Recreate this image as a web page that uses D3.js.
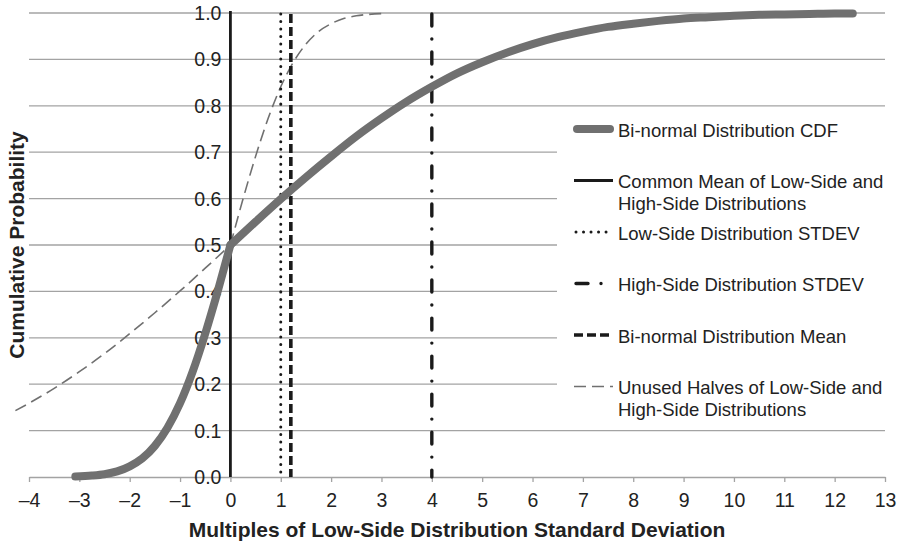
<!DOCTYPE html>
<html>
<head>
<meta charset="utf-8">
<script src="https://cdn.jsdelivr.net/npm/d3@7"></script>
<style>
  body { margin: 0; background: #fff; }
  text { font-family: "Liberation Sans", Arial, sans-serif; fill: #222; }
</style>
</head>
<body>
<div id="chart"></div>
<script>
// tick values and labels
const xTicks = [-4, -3, -2, -1, 0, 1, 2, 3, 4, 5, 6, 7, 8, 9, 10, 11, 12, 13]
const xTickLabels = ['–4', '–3', '–2', '–1', '0', '1', '2', '3', '4', '5', '6', '7', '8', '9', '10', '11', '12', '13']
const yTicks = [0, 0.1, 0.2, 0.3, 0.4, 0.5, 0.6, 0.7, 0.8, 0.9, 1.0]
const yTickLabels = ['0.0', '0.1', '0.2', '0.3', '0.4', '0.5', '0.6', '0.7', '0.8', '0.9', '1.0']

// bi-normal CDF, low side (x < 0) and high side (x > 0)
const cdfLow = [
  [-3.08, 0.001], [-2.75, 0.003], [-2.5, 0.006], [-2.25, 0.012], [-2.0, 0.023],
  [-1.75, 0.040], [-1.5, 0.067], [-1.25, 0.106], [-1.0, 0.159], [-0.75, 0.227],
  [-0.5, 0.309], [-0.25, 0.401], [0, 0.5]
]
const cdfHigh = [
  [0, 0.5], [0.5, 0.550], [1, 0.599], [1.5, 0.646], [2, 0.691], [2.5, 0.734],
  [3, 0.773], [3.5, 0.809], [4, 0.841], [4.5, 0.870], [5, 0.894], [5.5, 0.915],
  [6, 0.933], [6.5, 0.948], [7, 0.960], [7.5, 0.970], [8, 0.977], [8.5, 0.983],
  [9, 0.988], [9.5, 0.991], [10, 0.994], [10.5, 0.996], [11, 0.997], [11.5, 0.998],
  [12, 0.999], [12.36, 0.999]
]

// unused halves (dashed gray)
const unusedLow = [
  [-4.27, 0.143], [-4, 0.159], [-3.5, 0.191], [-3, 0.227], [-2.5, 0.266], [-2, 0.309],
  [-1.5, 0.354], [-1, 0.401], [-0.5, 0.450], [0, 0.5]
]
const unusedHigh = [
  [0, 0.5], [0.25, 0.599], [0.5, 0.691], [0.75, 0.773], [1, 0.841], [1.25, 0.894],
  [1.5, 0.933], [1.75, 0.960], [2, 0.977], [2.25, 0.988], [2.5, 0.994],
  [2.75, 0.997], [3.1, 0.999]
]

// vertical markers
const commonMean = 0
const lowStdev = 1
const biMean = 1.2
const highStdev = 4

const legendKeys = ['cdf', 'mean', 'low', 'high', 'bimean', 'unused']
const legendLabels = [
  ['Bi-normal Distribution CDF'],
  ['Common Mean of Low-Side and', 'High-Side Distributions'],
  ['Low-Side Distribution STDEV'],
  ['High-Side Distribution STDEV'],
  ['Bi-normal Distribution Mean'],
  ['Unused Halves of Low-Side and', 'High-Side Distributions']
]

const styles = {
  cdf: { stroke: '#707070', width: 8, dash: null, cap: 'round' },
  mean: { stroke: '#1a1a1a', width: 2.8, dash: null, cap: 'butt' },
  low: { stroke: '#1a1a1a', width: 3, dash: '0.01,7.5', cap: 'round' },
  high: { stroke: '#1a1a1a', width: 3.4, dash: '12,13,0.01,13', cap: 'round' },
  bimean: { stroke: '#1a1a1a', width: 3.6, dash: '9,4', cap: 'butt' },
  unused: { stroke: '#707070', width: 1.6, dash: '12,6', cap: 'butt' }
}

const w = 898
const h = 548

const x = d3.scaleLinear().domain([-4, 13]).range([29, 885])
const y = d3.scaleLinear().domain([0, 1]).range([477, 13])

const svg = d3.select('#chart')
  .append('svg')
  .attr('width', w)
  .attr('height', h)

const applyStyle = (sel, s) => {
  sel.attr('fill', 'none')
    .attr('stroke', s.stroke)
    .attr('stroke-width', s.width)
    .attr('stroke-linecap', s.cap)
  if (s.dash) sel.attr('stroke-dasharray', s.dash)
  return sel
}

// gridlines
svg.append('g')
  .selectAll('line')
  .data(yTicks.slice(1))
  .enter()
  .append('line')
  .attr('x1', x(-4))
  .attr('x2', x(13))
  .attr('y1', d => y(d))
  .attr('y2', d => y(d))
  .attr('stroke', '#a3a3a3')
  .attr('stroke-width', 1.3)

// x axis
const xAxis = svg.append('g')
  .attr('transform', `translate(0,${y(0)})`)
  .call(d3.axisBottom(x)
    .tickValues(xTicks)
    .tickFormat((d, i) => xTickLabels[i])
    .tickSize(5)
    .tickSizeOuter(0)
    .tickPadding(11))
xAxis.select('.domain').attr('stroke', '#a3a3a3').attr('stroke-width', 1.3)
xAxis.selectAll('.tick line').attr('stroke', '#a3a3a3').attr('stroke-width', 1.3)
xAxis.selectAll('.tick text')
  .attr('font-size', '19.5px')
  .attr('font-family', '"Liberation Sans", Arial, sans-serif')
  .attr('fill', '#222')

// y tick labels, sitting just left of x = 0
svg.append('g')
  .selectAll('text')
  .data(yTicks)
  .enter()
  .append('text')
  .attr('x', x(0) - 9)
  .attr('y', d => y(d))
  .attr('dy', '0.36em')
  .attr('text-anchor', 'end')
  .attr('font-size', '19.5px')
  .text((d, i) => yTickLabels[i])

// legend background
svg.append('rect')
  .attr('x', 557)
  .attr('y', 110)
  .attr('width', 885 - 557)
  .attr('height', 312)
  .attr('fill', '#fff')

const line = d3.line()
  .x(d => x(d[0]))
  .y(d => y(d[1]))
  .curve(d3.curveMonotoneX)

// unused halves
;[unusedLow, unusedHigh].forEach(series => {
  applyStyle(svg.append('path').attr('d', line(series)), styles.unused)
})

// vertical markers
const markers = [
  { v: commonMean, key: 'mean' },
  { v: lowStdev, key: 'low' },
  { v: biMean, key: 'bimean' },
  { v: highStdev, key: 'high' }
]
markers.forEach(m => {
  const top = m.key === 'mean' ? y(1) - 2 : y(1) + 1
  applyStyle(svg.append('line')
    .attr('x1', x(m.v)).attr('x2', x(m.v))
    .attr('y1', top).attr('y2', y(0)), styles[m.key])
})

// bi-normal CDF
;[cdfLow, cdfHigh].forEach(series => {
  applyStyle(svg.append('path').attr('d', line(series)), styles.cdf)
})

// legend
const legend = svg.append('g')
legendKeys.forEach((key, i) => {
  const ly = 130 + i * 51.5
  const s = styles[key]
  const x1 = key === 'cdf' ? 577 : (key === 'low' || key === 'high' ? 576 : 574)
  const x2 = key === 'cdf' ? 610 : 613
  applyStyle(legend.append('line')
    .attr('x1', x1).attr('x2', x2)
    .attr('y1', ly - 1).attr('y2', ly - 1), s)
  legendLabels[i].forEach((t, j) => {
    legend.append('text')
      .attr('x', 618)
      .attr('y', ly + j * 22)
      .attr('dy', '0.36em')
      .attr('font-size', '18.5px')
      .text(t)
  })
})

// axis titles
svg.append('text')
  .attr('x', (x(-4) + x(13)) / 2)
  .attr('y', 537)
  .attr('text-anchor', 'middle')
  .attr('font-size', '21px')
  .attr('font-weight', 'bold')
  .text('Multiples of Low-Side Distribution Standard Deviation')

svg.append('text')
  .attr('transform', `translate(24,${(y(0) + y(1)) / 2}) rotate(-90)`)
  .attr('text-anchor', 'middle')
  .attr('font-size', '21px')
  .attr('font-weight', 'bold')
  .text('Cumulative Probability')
</script>
</body>
</html>
